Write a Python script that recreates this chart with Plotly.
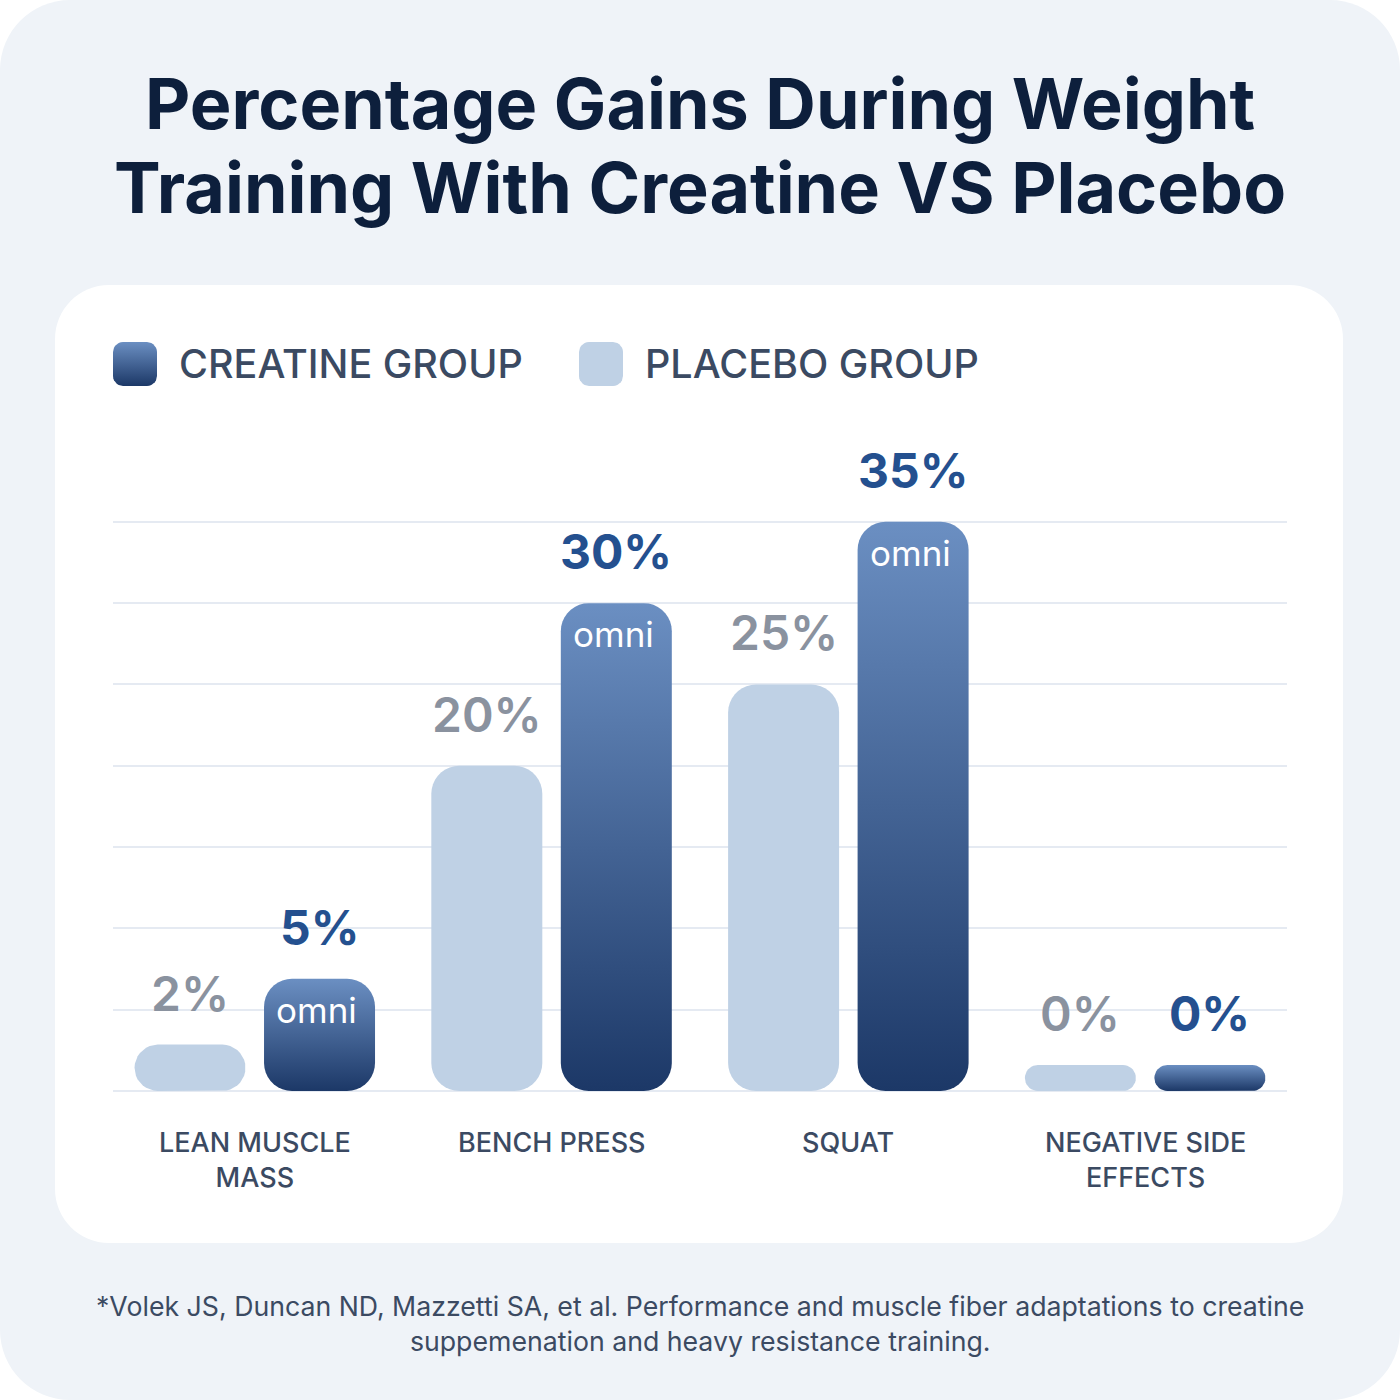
import numpy as np
import plotly.graph_objects as go

# ---------------- data ----------------
categories = ["LEAN MUSCLE<br>MASS", "BENCH PRESS", "SQUAT", "NEGATIVE SIDE<br>EFFECTS"]
placebo_labels = ["2%", "20%", "25%", "0%"]
creatine_labels = ["5%", "30%", "35%", "0%"]
# bar heights as drawn in the graphic (percentage scale)
placebo_heights = [2.85, 20, 25, 1.6]
creatine_heights = [6.9, 30, 35, 1.6]
series_names = ["CREATINE GROUP", "PLACEBO GROUP"]
title_lines = ["Percentage Gains During Weight", "Training With Creatine VS Placebo"]
footnote = ("*Volek JS, Duncan ND, Mazzetti SA, et al. Performance and muscle fiber adaptations to creatine"
            "<br>suppemenation and heavy resistance training.")

# ---------------- style ----------------
W = H = 1400
FONT = "Inter"
BG = "#eff3f8"
TITLE_C = "#0d1f3c"
TEXT_C = "#3b4a62"
PLACEBO_C = "#bfd1e5"
CREA_TOP = "#6b8fc2"
CREA_BOT = "#1c3867"
CREA_LABEL = "#24508f"
PLAC_LABEL = "#8a929f"
GRID_C = "#e5eaf2"

X_L, X_R = 113, 1287
X_RANGE = [-0.4777, 3.478]
Y_RANGE = [-0.15, 37.5]
Y_BOT_PX, Y_TOP_PX = 1093.4, 481.2
XPX = (X_R - X_L) / (X_RANGE[1] - X_RANGE[0])
YPX = (Y_BOT_PX - Y_TOP_PX) / (Y_RANGE[1] - Y_RANGE[0])
BAR_W = 111 / XPX
OFF = 64.75 / XPX
R_PX = 28


def px(x):
    return x / W


def py(y):
    return 1 - y / H


def rrect_paper(x0, y0, x1, y1, r):
    k = 0.5523 * r
    p = lambda x, y: f"{px(x):.5f},{py(y):.5f}"
    path = (f"M{p(x0 + r, y0)} L{p(x1 - r, y0)} "
            f"C{p(x1 - r + k, y0)} {p(x1, y0 + r - k)} {p(x1, y0 + r)} "
            f"L{p(x1, y1 - r)} "
            f"C{p(x1, y1 - r + k)} {p(x1 - r + k, y1)} {p(x1 - r, y1)} "
            f"L{p(x0 + r, y1)} "
            f"C{p(x0 + r - k, y1)} {p(x0, y1 - r + k)} {p(x0, y1 - r)} "
            f"L{p(x0, y0 + r)} "
            f"C{p(x0, y0 + r - k)} {p(x0 + r - k, y0)} {p(x0 + r, y0)} Z")
    return path


def rounded_bar(xc, h, w=BAR_W, r_px=R_PX, xs=XPX, ys=YPX, n=10):
    xl, xr = xc - w / 2, xc + w / 2
    r = min(r_px, h * ys / 2, w * xs / 2)
    rx, ry = r / xs, r / ys
    corners = [((xl + rx, ry), 180, 270), ((xr - rx, ry), 270, 360),
               ((xr - rx, h - ry), 0, 90), ((xl + rx, h - ry), 90, 180)]
    xsr, ysr = [], []
    for (cx, cy), a0, a1 in corners:
        t = np.radians(np.linspace(a0, a1, n))
        xsr.extend(cx + rx * np.cos(t))
        ysr.extend(cy + ry * np.sin(t))
    xsr.append(xsr[0])
    ysr.append(ysr[0])
    return xsr, ysr


fig = go.Figure()

# placebo bars
for i, h in enumerate(placebo_heights):
    bx, by = rounded_bar(i - OFF, h)
    fig.add_trace(go.Scatter(x=bx, y=by, mode="lines", fill="toself", fillcolor=PLACEBO_C,
                             line=dict(width=0), hoverinfo="skip", showlegend=False,
                             name=series_names[1]))
# creatine bars (vertical gradient)
for i, h in enumerate(creatine_heights):
    bx, by = rounded_bar(i + OFF, h)
    fig.add_trace(go.Scatter(x=bx, y=by, mode="lines", fill="toself",
                             fillgradient=dict(type="vertical",
                                               colorscale=[[0, CREA_BOT], [1, CREA_TOP]]),
                             line=dict(width=0), hoverinfo="skip", showlegend=False,
                             name=series_names[0]))

# legend swatches on a full-canvas pixel subplot
def swatch(x0, y0, s=44, r=10, n=8):
    k = [((x0 + s - r, y0 + r), -90, 0), ((x0 + s - r, y0 + s - r), 0, 90),
         ((x0 + r, y0 + s - r), 90, 180), ((x0 + r, y0 + r), 180, 270)]
    xs_, ys_ = [], []
    for (cx, cy), a0, a1 in k:
        t = np.radians(np.linspace(a0, a1, n))
        xs_.extend(cx + r * np.cos(t))
        ys_.extend(cy + r * np.sin(t))
    xs_.append(xs_[0]); ys_.append(ys_[0])
    return xs_, ys_

sx, sy = swatch(113, 342)
fig.add_trace(go.Scatter(x=sx, y=sy, xaxis="x2", yaxis="y2", mode="lines", fill="toself",
                         fillgradient=dict(type="vertical", colorscale=[[0, CREA_BOT], [1, CREA_TOP]]),
                         line=dict(width=0), hoverinfo="skip", showlegend=False))
sx, sy = swatch(579, 342)
fig.add_trace(go.Scatter(x=sx, y=sy, xaxis="x2", yaxis="y2", mode="lines", fill="toself",
                         fillcolor=PLACEBO_C, line=dict(width=0), hoverinfo="skip", showlegend=False))

ann = []
# title
for j, (line, yb) in enumerate(zip(title_lines, [103, 187])):
    ann.append(dict(text=line, x=0.5, y=py(yb), xref="paper", yref="paper", xanchor="center",
                    yanchor="middle", showarrow=False,
                    font=dict(family=FONT, size=70, weight=700, color=TITLE_C)))
# legend labels
for name, xl in zip(series_names, [177, 643]):
    ann.append(dict(text=name, x=px(xl), y=py(364), xref="paper", yref="paper", xanchor="left",
                    yanchor="middle", showarrow=False,
                    font=dict(family=FONT, size=39.5, weight=500, color=TEXT_C)))
# value labels
for i in range(len(categories)):
    ann.append(dict(text=placebo_labels[i], x=i - OFF, y=placebo_heights[i], xref="x", yref="y",
                    xanchor="center", yanchor="bottom", yshift=20, showarrow=False,
                    font=dict(family=FONT, size=48, weight=600, color=PLAC_LABEL)))
    ann.append(dict(text=creatine_labels[i], x=i + OFF, y=creatine_heights[i], xref="x", yref="y",
                    xanchor="center", yanchor="bottom", yshift=20, showarrow=False,
                    font=dict(family=FONT, size=48, weight=700, color=CREA_LABEL)))
    if creatine_heights[i] > 5:
        ann.append(dict(text="omni", x=i + OFF - 0.01, y=creatine_heights[i], xref="x", yref="y",
                        xanchor="center", yanchor="middle", yshift=-31, showarrow=False,
                        font=dict(family=FONT, size=35, weight=400, color="white")))
# category labels
for i, c in enumerate(categories):
    ann.append(dict(text=c, x=i, y=py(1124), xref="x", yref="paper", xanchor="center",
                    yanchor="top", showarrow=False, align="center",
                    font=dict(family=FONT, size=27, weight=500, color=TEXT_C)))
# footnote
ann.append(dict(text=footnote, x=0.5, y=py(1323), xref="paper", yref="paper", xanchor="center",
                yanchor="middle", showarrow=False, align="center",
                font=dict(family=FONT, size=26.7, weight=400, color=TEXT_C)))

shapes = [
    dict(type="path", path=rrect_paper(0, 0, W, H, 70), xref="paper", yref="paper",
         fillcolor=BG, line=dict(width=0), layer="below"),
    dict(type="path", path=rrect_paper(55, 285, 1343, 1243, 54), xref="paper", yref="paper",
         fillcolor="white", line=dict(width=0), layer="below"),
]

fig.update_layout(
    width=W, height=H, margin=dict(l=0, r=0, t=0, b=0),
    paper_bgcolor="white", plot_bgcolor="rgba(0,0,0,0)",
    showlegend=False, annotations=ann, shapes=shapes,
    xaxis=dict(domain=[X_L / W, X_R / W], range=X_RANGE, showgrid=False, zeroline=False,
               showticklabels=False, ticks="", fixedrange=True),
    yaxis=dict(domain=[py(Y_BOT_PX), py(Y_TOP_PX)], range=Y_RANGE, tick0=0, dtick=5,
               showgrid=True, gridcolor=GRID_C, gridwidth=2, zeroline=False,
               showticklabels=False, ticks="", fixedrange=True),
    xaxis2=dict(domain=[0, 1], range=[0, W], visible=False, anchor="y2", fixedrange=True),
    yaxis2=dict(domain=[0, 1], range=[H, 0], visible=False, anchor="x2", fixedrange=True),
)

fig.write_html("out.html")
